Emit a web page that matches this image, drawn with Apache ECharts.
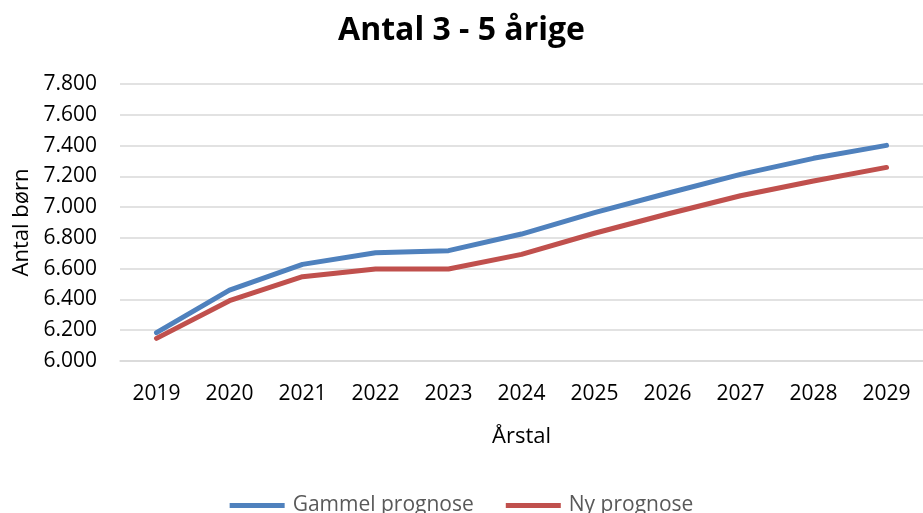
<!DOCTYPE html>
<html>
<head>
<meta charset="utf-8">
<script src="https://cdn.jsdelivr.net/npm/echarts@6/dist/echarts.min.js"></script>
<style>
  html, body { margin: 0; padding: 0; background: #fff; }
  #showChart { width: 923px; height: 513px; }
</style>
</head>
<body>
<div id="showChart"></div>
<script>
var years = ['2019', '2020', '2021', '2022', '2023', '2024', '2025', '2026', '2027', '2028', '2029'];
var gammel = [6184, 6461, 6628, 6704, 6717, 6825, 6964, 7090, 7213, 7317, 7401];
var ny = [6147, 6392, 6548, 6598, 6598, 6693, 6830, 6955, 7074, 7170, 7258];
var seriesNames = ['Gammel prognose', 'Ny prognose'];

var font = '"Open Sans", sans-serif';

var option1 = {
    animation: false,
    title: {
        text: 'Antal 3 - 5 årige',
        left: 'center',
        top: 10,
        textStyle: {fontFamily: font, fontSize: 32, fontWeight: 'bold', color: '#000'}
    },
    legend: {
        data: seriesNames,
        left: 'center',
        top: 490,
        icon: 'rect',
        itemWidth: 55,
        itemHeight: 5,
        itemGap: 32,
        textStyle: {fontFamily: font, fontSize: 21, color: '#595959', padding: [0, 0, 0, 3]}
    },
    grid: {left: 120, right: 0, top: 84, bottom: 152},
    xAxis: {
        type: 'category',
        data: years,
        name: 'Årstal',
        nameLocation: 'middle',
        nameGap: 65,
        nameTextStyle: {fontFamily: font, fontSize: 22, color: '#000'},
        axisLine: {show: true, lineStyle: {color: '#d9d9d9', width: 1.5}},
        axisTick: {show: false},
        axisLabel: {fontFamily: font, fontSize: 21, color: '#000', margin: 23}
    },
    yAxis: {
        type: 'value',
        min: 6000,
        max: 7800,
        interval: 200,
        name: 'Antal børn',
        nameLocation: 'middle',
        nameGap: 86,
        nameTextStyle: {fontFamily: font, fontSize: 22, color: '#000'},
        axisLine: {show: false},
        axisTick: {show: false},
        axisLabel: {
            fontFamily: font, fontSize: 21, color: '#000', margin: 23,
            formatter: function (v) {
                var s = String(v);
                return s.slice(0, s.length - 3) + '.' + s.slice(-3);
            }
        },
        splitLine: {lineStyle: {color: '#d9d9d9', width: 1.5}}
    },
    series: [
        {
            name: seriesNames[0],
            type: 'line',
            data: gammel,
            symbol: 'none',
            color: '#4f81bd',
            lineStyle: {width: 5, cap: 'round', join: 'round'}
        },
        {
            name: seriesNames[1],
            type: 'line',
            data: ny,
            symbol: 'none',
            color: '#c0504d',
            lineStyle: {width: 5, cap: 'round', join: 'round'}
        }
    ]
};

var chartOutChar = echarts.init(document.getElementById('showChart'));
chartOutChar.setOption(option1);
</script>
</body>
</html>
